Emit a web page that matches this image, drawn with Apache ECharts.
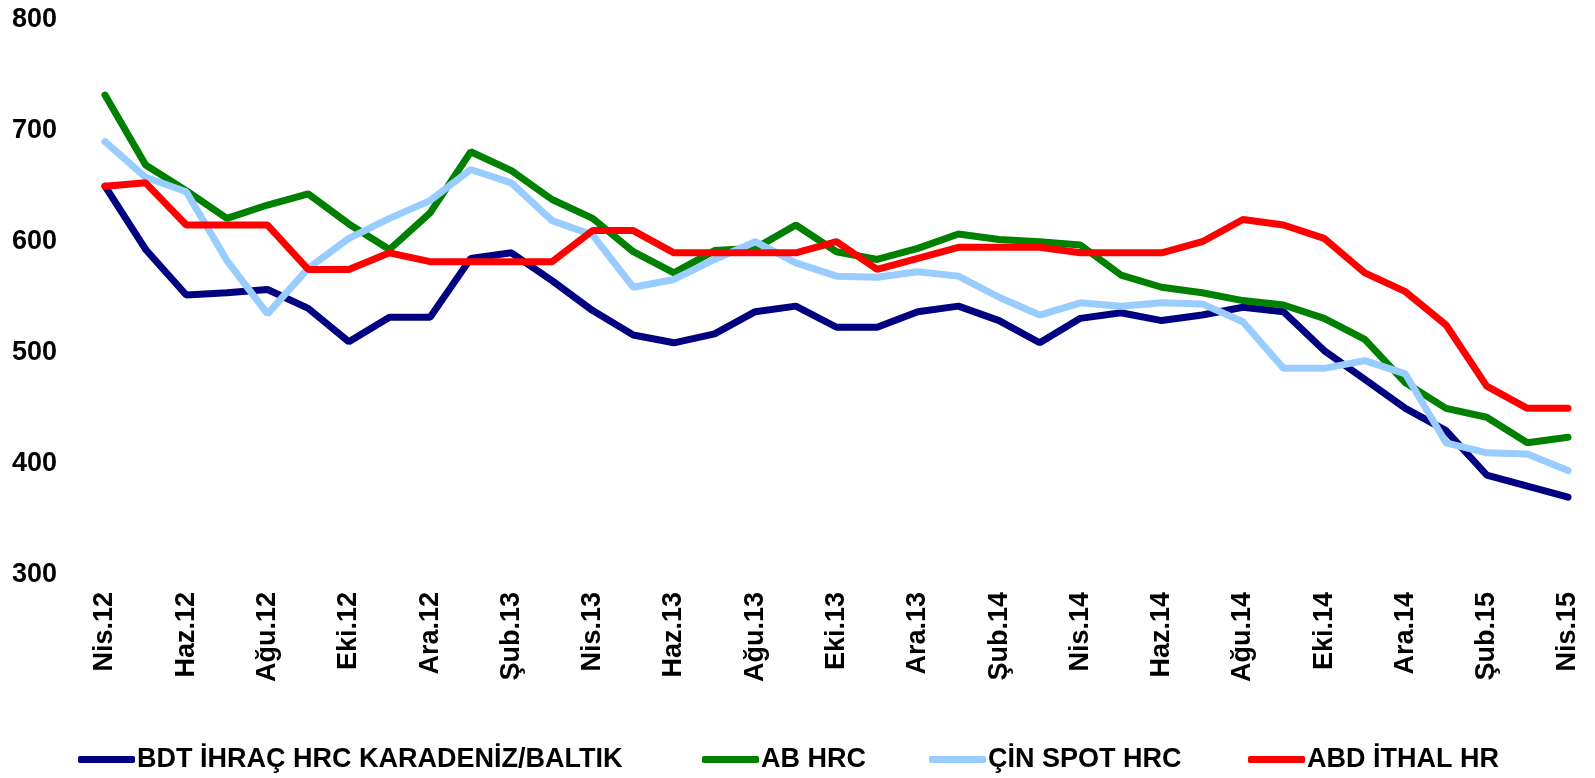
<!DOCTYPE html>
<html>
<head>
<meta charset="utf-8">
<script src="https://cdn.jsdelivr.net/npm/echarts@6/dist/echarts.min.js"></script>
<style>
  html, body { margin: 0; padding: 0; background: #fff; }
  #chart { width: 1595px; height: 778px; }
</style>
</head>
<body>
<div id="chart"></div>
<script>
const months = [
  "Nis.12", "May.12", "Haz.12", "Tem.12", "Ağu.12", "Eyl.12", "Eki.12", "Kas.12", "Ara.12",
  "Oca.13", "Şub.13", "Mar.13", "Nis.13", "May.13", "Haz.13", "Tem.13", "Ağu.13", "Eyl.13",
  "Eki.13", "Kas.13", "Ara.13", "Oca.14", "Şub.14", "Mar.14", "Nis.14", "May.14", "Haz.14",
  "Tem.14", "Ağu.14", "Eyl.14", "Eki.14", "Kas.14", "Ara.14", "Oca.15", "Şub.15", "Mar.15",
  "Nis.15"
]

const bdtHrc = [650, 593, 552, 554, 557, 540, 510, 532, 532, 585, 590, 565, 538, 516, 509, 517, 537, 542, 523, 523, 537, 542, 529, 509, 531, 536, 529, 534, 541, 537, 502, 476, 450, 430, 390, 380, 370]
const abHrc = [732, 669, 646, 621, 633, 643, 616, 593, 626, 681, 664, 638, 621, 591, 572, 592, 594, 615, 591, 584, 594, 607, 602, 600, 597, 570, 559, 554, 547, 543, 531, 512, 473, 450, 442, 419, 424]
const cinSpot = [690, 658, 645, 583, 535, 576, 603, 621, 637, 665, 653, 619, 606, 559, 566, 584, 600, 581, 569, 568, 573, 569, 550, 534, 545, 542, 545, 544, 528, 486, 486, 493, 481, 419, 410, 409, 394]
const abdIthal = [650, 653, 615, 615, 615, 575, 575, 590, 582, 582, 582, 582, 610, 610, 590, 590, 590, 590, 600, 575, 585, 595, 595, 595, 590, 590, 590, 600, 620, 615, 603, 572, 555, 525, 470, 450, 450]

const seriesNames = ["BDT İHRAÇ HRC KARADENİZ/BALTIK", "AB HRC", "ÇİN SPOT HRC", "ABD İTHAL HR"]
const seriesColors = ["#000080", "#008000", "#99ccff", "#ff0000"]
const seriesData = [bdtHrc, abHrc, cinSpot, abdIthal]

const FONT = "'Liberation Sans', Arial, sans-serif"
const legendLefts = [78, 702, 929, 1248]

const chart = echarts.init(document.getElementById("chart"))

const legends = seriesNames.map((name, i) => ({
  data: [name],
  left: legendLefts[i],
  top: 746,
  padding: 0,
  itemWidth: 57,
  itemHeight: 7,
  icon: "roundRect",
  textStyle: { fontFamily: FONT, fontWeight: "bold", fontSize: 27, color: "#000", padding: [0, 0, 0, -3] }
}))

chart.setOption({
  animation: false,
  backgroundColor: "#fff",
  legend: legends,
  grid: { left: 105, right: 27, top: 19.5, bottom: 203 },
  xAxis: {
    type: "category",
    data: months,
    boundaryGap: false,
    axisLine: { show: false },
    axisTick: { show: false },
    splitLine: { show: false },
    axisLabel: {
      interval: 1,
      rotate: 90,
      margin: 17,
      fontFamily: FONT,
      fontWeight: "bold",
      fontSize: 27,
      color: "#000"
    }
  },
  yAxis: {
    type: "value",
    min: 300,
    max: 800,
    interval: 100,
    axisLine: { show: false },
    axisTick: { show: false },
    splitLine: { show: false },
    axisLabel: {
      margin: 48,
      fontFamily: FONT,
      fontWeight: "bold",
      fontSize: 27,
      color: "#000"
    }
  },
  series: seriesData.map((data, i) => ({
    name: seriesNames[i],
    type: "line",
    data: data,
    symbol: "none",
    color: seriesColors[i],
    lineStyle: { width: 7, color: seriesColors[i], cap: "round" }
  }))
})
</script>
</body>
</html>
